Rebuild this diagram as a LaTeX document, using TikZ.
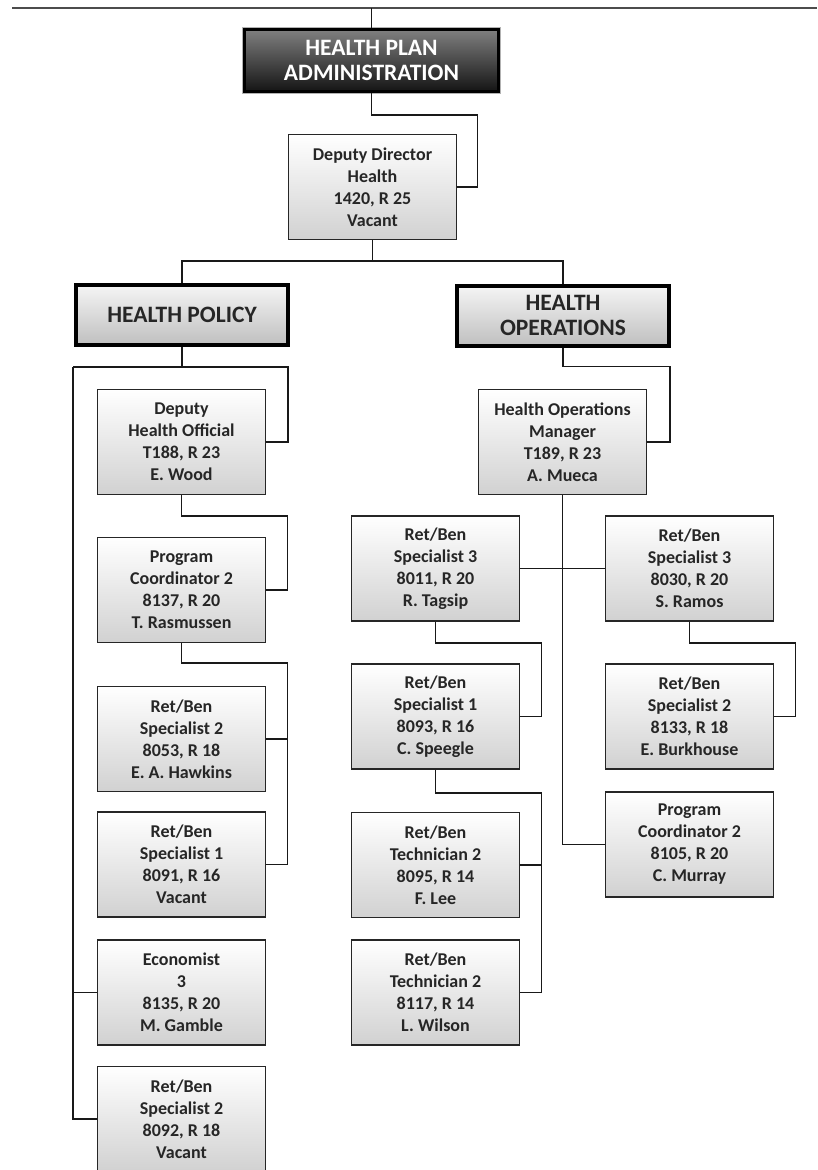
\documentclass[tikz,border=0pt]{standalone}
\usepackage{fontspec}
\setmainfont{Carlito}

\tikzset{
  chief/.style={draw=black, line width=3pt, preaction={draw=black!30, line width=5pt},
    top color=black!50, bottom color=black!92, text=white,
    minimum width=254pt, minimum height=62pt, inner sep=0pt, align=center,
    font=\fontsize{23.5}{25}\selectfont\bfseries},
  unit/.style={draw=black, line width=4pt, top color=black!4, bottom color=black!25,
    text=black!85, minimum width=212pt, minimum height=60pt, inner sep=0pt, align=center,
    font=\fontsize{23.5}{25}\selectfont\bfseries},
  post/.style={draw=black!85, line width=1.5pt, top color=white, bottom color=black!18,
    text=black!85, minimum width=168pt, minimum height=105pt, inner sep=0pt, align=center,
    font=\fontsize{18}{22}\selectfont\bfseries},
  wire/.style={line width=1.8pt, black!90},
  rule/.style={line width=2.5pt, black!70}
}

\begin{document}
\begin{tikzpicture}[x=1pt, y=-1pt]
\useasboundingbox (0,0) rectangle (817,1170);

% top of chart
\coordinate (ruleL) at (12,8);
\coordinate (ruleR) at (817,8);
\draw[rule] (ruleL) -- (ruleR);
\node[chief] (admin) at (371.5,60.5) {HEALTH PLAN\\ADMINISTRATION};
\node[post] (dd) at (372.5,187) {Deputy Director\\Health\\1420, R 25\\Vacant};
\node[unit] (hp) at (182,315) {HEALTH POLICY};
\node[unit] (ho) at (563,315.5) {HEALTH\\OPERATIONS};

% health policy
\node[post] (hpdep) at (181.5,442) {Deputy\\Health Official\\T188, R 23\\E. Wood};
\node[post] (pc) at (181.5,590) {Program\\Coordinator 2\\8137, R 20\\T. Rasmussen};
\node[post] (rbtwo) at (181.5,739) {Ret/Ben\\Specialist 2\\8053, R 18\\E. A. Hawkins};
\node[post] (rbone) at (181.5,864.5) {Ret/Ben\\Specialist 1\\8091, R 16\\Vacant};
\node[post] (econ) at (181.5,992.5) {Economist\\3\\8135, R 20\\M. Gamble};
\node[post] (rbvac) at (181.5,1119) {Ret/Ben\\Specialist 2\\8092, R 18\\Vacant};

% health operations
\node[post] (hom) at (562.5,442) {Health Operations\\Manager\\T189, R 23\\A. Mueca};
\node[post] (tagsip) at (435.5,568.5) {Ret/Ben\\Specialist 3\\8011, R 20\\R. Tagsip};
\node[post] (ramos) at (689.5,568.5) {Ret/Ben\\Specialist 3\\8030, R 20\\S. Ramos};
\node[post] (speegle) at (435.5,716.5) {Ret/Ben\\Specialist 1\\8093, R 16\\C. Speegle};
\node[post] (burk) at (689.5,716.5) {Ret/Ben\\Specialist 2\\8133, R 18\\E. Burkhouse};
\node[post] (murray) at (689.5,844.5) {Program\\Coordinator 2\\8105, R 20\\C. Murray};
\node[post] (lee) at (435.5,865) {Ret/Ben\\Technician 2\\8095, R 14\\F. Lee};
\node[post] (wilson) at (435.5,992.5) {Ret/Ben\\Technician 2\\8117, R 14\\L. Wilson};

% lines
\draw[wire] (admin.north) -- (admin.north |- ruleL);
\draw[wire] (admin.south) |- ++(106,22) |- (dd.east);
\draw[wire] (dd.south) -- ++(0,21) coordinate (fork);
\draw[wire] (hp.north) |- (fork) -| (ho.north);

\draw[wire] (hp.south) -- ++(0,20) coordinate (hpbar);
\draw[wire] (hpbar) -- ++(106,0) |- (hpdep.east);
\draw[wire] (hpbar) -- ++(-109,0) coordinate (hprail);
\foreach \n in {econ,rbvac}
  \draw[wire] (hprail) |- (\n.west);
\draw[wire] (hpdep.south) |- ++(106,21) |- (pc.east);
\draw[wire] (pc.south) |- ++(106,20) coordinate (pcrail);
\foreach \n in {rbtwo,rbone}
  \draw[wire] (pcrail) |- (\n.east);

\draw[wire] (ho.south) |- ++(107,19) |- (hom.east);
\draw[wire] (hom.south) |- (murray.west);
\draw[wire] (tagsip.east) -- (ramos.west);
\draw[wire] (tagsip.south) |- ++(106,21) |- (speegle.east);
\draw[wire] (ramos.south) |- ++(106,21) |- (burk.east);
\draw[wire] (speegle.south) |- ++(106,23) coordinate (sprail);
\foreach \n in {lee,wilson}
  \draw[wire] (sprail) |- (\n.east);
\end{tikzpicture}
\end{document}
